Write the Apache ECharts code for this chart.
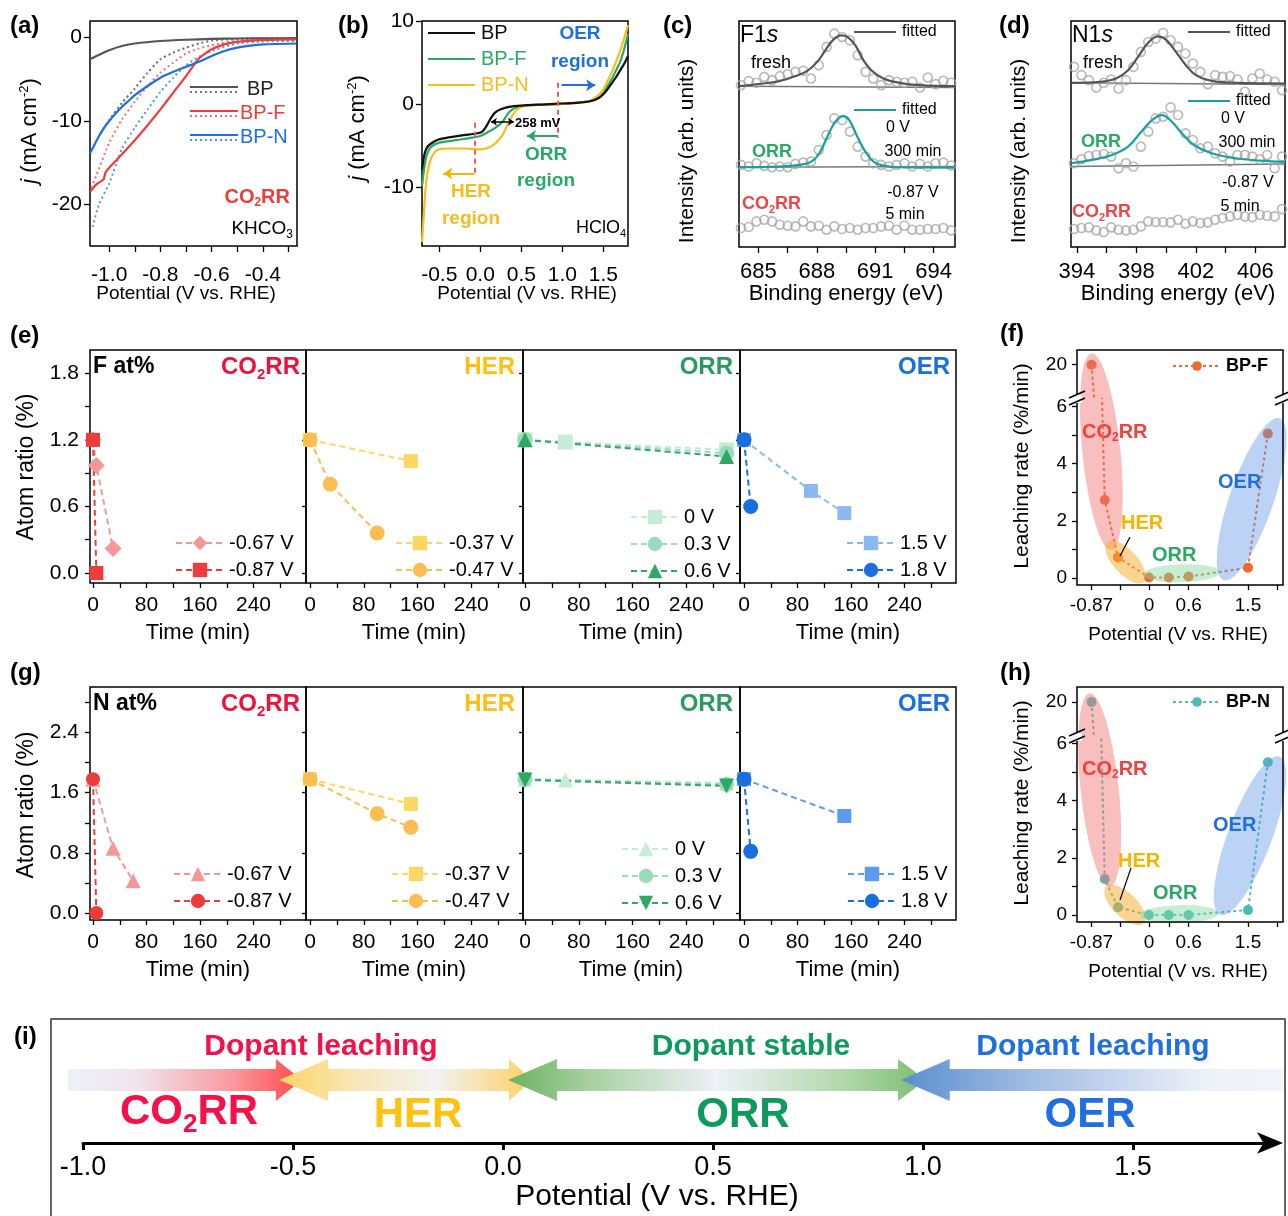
<!DOCTYPE html>
<html>
<head>
<meta charset="utf-8">
<script src="https://cdn.jsdelivr.net/npm/echarts@6/dist/echarts.min.js"></script>
<style>
  html, body { margin: 0; padding: 0; background: #fff; }
  #chart { width: 1288px; height: 1216px; }
</style>
</head>
<body>
<div id="chart"></div>
<script>
const FONT = '"Liberation Sans", Arial, Helvetica, sans-serif';

// ---------- (a) LSV in KHCO3 : [potential V, j mA cm-2]
const aBP = [[-1.075,-2.6],[-1.05,-2.2],[-1.0,-1.5],[-0.95,-1.0],[-0.9,-0.7],[-0.8,-0.4],[-0.7,-0.25],[-0.6,-0.15],[-0.5,-0.1],[-0.4,-0.08],[-0.27,-0.06]];
const aBPdot = [[-1.035,-11.5],[-1.0,-9.9],[-0.95,-7.8],[-0.9,-6.1],[-0.85,-4.2],[-0.8,-2.6],[-0.75,-1.8],[-0.7,-1.2],[-0.65,-0.7],[-0.6,-0.35],[-0.5,-0.15],[-0.4,-0.08],[-0.27,-0.05]];
const aBPF = [[-1.075,-18.5],[-1.05,-17.6],[-1.022,-17.0],[-1.015,-16.2],[-1.0,-15.6],[-0.95,-14.0],[-0.9,-12.3],[-0.85,-10.5],[-0.8,-8.6],[-0.75,-6.6],[-0.7,-4.6],[-0.65,-2.5],[-0.6,-1.4],[-0.55,-0.8],[-0.5,-0.5],[-0.4,-0.3],[-0.27,-0.2]];
const aBPFdot = [[-1.07,-18.0],[-1.05,-16.5],[-1.0,-12.6],[-0.95,-9.8],[-0.9,-7.7],[-0.85,-5.8],[-0.8,-4.2],[-0.75,-3.0],[-0.7,-1.9],[-0.65,-1.3],[-0.6,-0.9],[-0.5,-0.35],[-0.4,-0.15],[-0.27,-0.1]];
const aBPN = [[-1.075,-13.9],[-1.06,-13.0],[-1.045,-12.1],[-1.03,-11.3],[-1.015,-10.6],[-1.0,-10.0],[-0.975,-9.1],[-0.95,-8.3],[-0.925,-7.6],[-0.9,-6.9],[-0.85,-5.8],[-0.8,-4.8],[-0.75,-4.1],[-0.7,-3.5],[-0.65,-2.9],[-0.6,-2.2],[-0.55,-1.6],[-0.5,-1.2],[-0.45,-0.95],[-0.4,-0.8],[-0.27,-0.7]];
const aBPNdot = [[-1.065,-22.7],[-1.04,-20.0],[-1.0,-17.5],[-0.95,-13.3],[-0.9,-10.8],[-0.85,-8.6],[-0.8,-6.5],[-0.75,-4.8],[-0.7,-3.3],[-0.65,-2.3],[-0.6,-1.6],[-0.5,-0.7],[-0.4,-0.45],[-0.27,-0.4]];

// ---------- (b) LSV in HClO4
const bBP = [[-0.71,-7.8],[-0.68,-6.0],[-0.65,-5.2],[-0.6,-4.7],[-0.5,-4.2],[-0.4,-4.0],[-0.2,-3.7],[-0.05,-3.5],[0.02,-3.3],[0.07,-2.7],[0.12,-1.8],[0.18,-1.0],[0.25,-0.6],[0.35,-0.3],[0.5,-0.15],[0.8,0],[1.0,0.1],[1.2,0.2],[1.35,0.4],[1.45,0.8],[1.5,1.2],[1.55,1.8],[1.6,2.5],[1.65,3.2],[1.7,4.0],[1.75,4.8],[1.8,5.8]];
const bBPF = [[-0.71,-9.8],[-0.68,-7.5],[-0.65,-6.0],[-0.6,-5.1],[-0.5,-4.6],[-0.3,-4.3],[-0.1,-4.0],[0.0,-3.8],[0.1,-3.3],[0.2,-2.7],[0.28,-2.0],[0.33,-1.2],[0.38,-0.7],[0.45,-0.35],[0.6,-0.1],[1.0,0.05],[1.2,0.2],[1.35,0.4],[1.45,0.9],[1.5,1.4],[1.55,2.2],[1.6,3.0],[1.65,4.0],[1.7,5.0],[1.75,6.5],[1.8,8.4]];
const bBPN = [[-0.71,-16.5],[-0.69,-13.5],[-0.67,-10.5],[-0.64,-8.0],[-0.6,-6.5],[-0.55,-5.7],[-0.5,-5.4],[-0.4,-5.3],[-0.2,-5.3],[0.0,-5.4],[0.1,-5.2],[0.17,-4.8],[0.22,-4.3],[0.27,-3.7],[0.31,-2.9],[0.35,-2.1],[0.4,-1.2],[0.45,-0.6],[0.55,-0.2],[0.8,-0.05],[1.0,0.05],[1.2,0.2],[1.35,0.5],[1.45,1.2],[1.5,1.8],[1.55,2.8],[1.6,3.8],[1.65,5.0],[1.7,6.3],[1.75,7.8],[1.8,9.5]];

// ---------- (c) F1s XPS
const f1sEnergy = [684.1,684.5,684.9,685.3,685.7,686.1,686.5,686.9,687.3,687.7,688.1,688.5,688.9,689.3,689.7,690.1,690.5,690.9,691.3,691.7,692.1,692.5,692.9,693.3,693.7,694.1,694.5,694.9];
const f1sFresh = [48.7,49.9,49.4,51.2,50.2,51.4,52.0,52.7,53.0,50.7,54.7,60.2,64.2,63.2,62.2,57.7,52.7,50.7,48.7,50.2,49.7,49.4,49.7,48.0,51.0,49.0,50.0,49.4];
const f1sOrr = [24.7,24.2,25.2,24.4,24.0,24.2,24.0,25.0,25.4,25.7,29.2,33.7,38.7,38.2,34.7,30.2,27.2,25.2,24.7,24.2,24.7,25.2,24.2,25.0,24.2,25.2,25.4,24.5];
const f1sCo2rr = [5.7,6.0,7.7,8.2,7.7,6.7,6.4,6.2,7.7,6.2,6.4,5.2,6.2,5.4,5.7,5.2,5.7,5.7,6.2,6.4,5.2,6.4,5.2,5.2,5.4,5.4,5.7,5.0];
const f1sFitFresh = [[684.0,48.4],[685.25,49.2],[686.07,49.9],[686.89,51.4],[687.51,53.0],[688.02,55.7],[688.44,59.2],[688.85,62.4],[689.26,63.7],[689.57,63.2],[689.98,60.7],[690.39,56.2],[690.8,53.2],[691.42,50.7],[692.24,49.4],[693.27,48.7],[695.1,48.4]];
const f1sFitOrr = [[684.0,24.0],[686.07,24.2],[687.1,24.7],[687.72,25.7],[688.13,28.2],[688.54,33.2],[688.95,37.7],[689.36,39.4],[689.67,38.2],[690.08,33.2],[690.49,28.7],[690.91,25.7],[691.42,24.5],[692.24,24.0],[695.1,23.9]];
const f1sBaseFresh = [[684.0,48.4],[695.1,48.0]];
const f1sBaseOrr = [[684.0,24.0],[695.1,24.2]];

// ---------- (d) N1s XPS
const n1sEnergy = [393.8,394.3,394.8,395.3,395.8,396.3,396.8,397.3,397.8,398.3,398.8,399.3,399.8,400.3,400.8,401.3,401.8,402.3,402.8,403.3,403.8,404.3,404.8,405.3,405.8,406.3,406.8,407.3,407.8];
const n1sFresh = [54.2,51.7,50.2,48.0,49.4,50.4,47.7,50.2,54.2,58.7,61.7,62.7,64.4,62.2,60.2,58.2,55.2,52.7,49.0,51.7,51.2,51.4,50.4,46.7,50.7,52.2,50.4,49.7,47.2];
const n1sOrr = [25.2,26.4,27.4,27.7,28.0,27.2,23.7,25.2,24.2,30.2,34.7,38.7,39.2,42.0,39.7,34.2,32.2,29.7,30.2,28.2,27.2,25.7,27.7,27.7,27.2,26.4,27.7,23.7,27.2];
const n1sCo2rr = [5.4,5.7,5.9,5.0,4.5,5.9,5.2,5.0,5.2,6.2,7.7,7.5,7.5,7.4,8.2,7.0,7.7,7.2,7.4,8.2,8.7,9.2,9.7,9.2,9.0,9.7,9.4,9.2,11.4];
const n1sFitFresh = [[393.6,49.4],[395.56,49.7],[396.63,50.7],[397.44,53.2],[398.11,57.2],[398.78,61.4],[399.45,63.4],[399.99,62.4],[400.66,58.7],[401.33,54.7],[402.0,51.7],[403.07,50.0],[404.68,49.4],[408.0,49.2]];
const n1sFitOrr = [[393.6,25.2],[395.02,26.2],[396.36,27.7],[397.44,30.2],[398.24,34.2],[399.05,38.2],[399.72,39.7],[400.39,37.7],[401.06,34.2],[401.87,30.7],[403.07,28.2],[404.68,26.7],[406.3,26.0],[408.0,25.6]];
const n1sBaseFresh = [[393.6,49.4],[408.0,48.9]];
const n1sBaseOrr = [[393.6,24.2],[408.0,25.0]];

// ---------- (e) F at% vs time : [min, %]
const eCo2rr067 = [[0,1.2],[5,0.97],[30,0.22]];
const eCo2rr087 = [[0,1.2],[5,0]];
const eHer037 = [[0,1.2],[150,1.01]];
const eHer047 = [[0,1.2],[30,0.8],[100,0.36]];
const eOrr0 = [[0,1.2],[60,1.18],[300,1.11]];
const eOrr03 = [[0,1.2],[300,1.08]];
const eOrr06 = [[0,1.2],[300,1.05]];
const eOer15 = [[0,1.2],[100,0.74],[150,0.54]];
const eOer18 = [[0,1.2],[10,0.6]];

// ---------- (g) N at% vs time
const gCo2rr067 = [[0,1.78],[30,0.86],[60,0.43]];
const gCo2rr087 = [[0,1.78],[5,0]];
const gHer037 = [[0,1.78],[150,1.45]];
const gHer047 = [[0,1.78],[100,1.32],[150,1.14]];
const gOrr0 = [[0,1.78],[60,1.77],[300,1.73]];
const gOrr03 = [[0,1.78],[300,1.71]];
const gOrr06 = [[0,1.77],[300,1.69]];
const gOer15 = [[0,1.78],[150,1.29]];
const gOer18 = [[0,1.78],[10,0.82]];

// ---------- (f)(h) leaching rate vs potential
const leachPotential = [-0.87,-0.67,-0.47,0,0.3,0.6,1.5,1.8];
const leachRateF = [20,2.73,0.72,0.02,0.02,0.05,0.36,5.05];
const leachRateN = [20,1.26,0.27,0,0,0,0.17,5.34];
// shaded regions: [x0, y0, x1, y1] ends of the long axis, order CO2RR, HER, ORR, OER
const fRegions = [[-0.87,7.86,-0.57,0.98],[-0.63,1.26,-0.08,-0.13],[-0.09,0.12,1.08,0.21],[1.13,-0.07,1.98,5.58]];
const hRegions = [[-0.9,7.75,-0.59,0.99],[-0.65,0.99,-0.08,-0.29],[-0.14,0.0,1.05,0.06],[1.08,0.0,1.98,5.53]];

// ---------- (i) potential windows: arrow from / to (V vs. RHE)
const windowFrom = [-1.036,-0.533,0.012,0.947];
const windowTo = [-0.479,0.069,1.007,1.857];

// ---------------------------------------------------------------
const zip = (xs, ys) => xs.map((x, i) => [x, ys[i]]);

function vAxis(gridIndex, min, max, o) {
  o = o || {};
  return {
    gridIndex: gridIndex, type: 'value', min: min, max: max,
    show: o.show !== false, position: o.position,
    splitLine: { show: false },
    axisLine: { show: false, onZero: false },
    axisTick: { show: !!o.ticks, customValues: o.ticks, inside: !!o.inside, length: o.tickLen || 5,
                lineStyle: { color: '#000', width: 1.3 } },
    axisLabel: { show: !!o.labels, customValues: o.labels, margin: o.margin == null ? 6 : o.margin,
                 fontFamily: FONT, fontSize: o.size || 20, color: '#000',
                 formatter: o.fmt || (v => String(+(+v).toFixed(2))) }
  };
}
const fix1 = v => (+v).toFixed(1);

const boxGrid = (l, t, w, h) => ({ left: l, top: t, width: w, height: h, show: true,
  borderColor: '#000', borderWidth: 1.5, backgroundColor: 'transparent' });
const openGrid = (l, t, w, h) => ({ left: l, top: t, width: w, height: h, show: false });

const grids = [
  boxGrid(90, 21, 207, 225),      // 0 a
  boxGrid(422, 21, 206, 225),     // 1 b
  boxGrid(739, 21, 216, 226),     // 2 c
  boxGrid(1071, 21, 214, 226),    // 3 d
  boxGrid(90, 350, 216, 233),     // 4 e
  boxGrid(306, 350, 217, 233),    // 5
  boxGrid(523, 350, 217, 233),    // 6
  boxGrid(740, 350, 216, 233),    // 7
  openGrid(1077, 399, 206, 186),  // 8 f lower
  openGrid(1077, 350, 206, 49),   // 9 f upper
  boxGrid(90, 687, 216, 233),     // 10 g
  boxGrid(306, 687, 217, 233),    // 11
  boxGrid(523, 687, 217, 233),    // 12
  boxGrid(740, 687, 216, 233),    // 13
  openGrid(1077, 737, 206, 185),  // 14 h lower
  openGrid(1077, 687, 206, 50),   // 15 h upper
  openGrid(83, 1020, 1192, 123)   // 16 i
];

const timeMin = [-4.5, -6, -3, -6];
const timeLabels = [0, 80, 160, 240];
const timeTicks = [0, 40, 80, 120, 160, 200, 240, 280];

const xAxes = [];
const yAxes = [];
// a
xAxes.push(vAxis(0, -1.075, -0.267, { labels: [-1.0,-0.8,-0.6,-0.4], ticks: [-1.0,-0.9,-0.8,-0.7,-0.6,-0.5,-0.4,-0.3], size: 21, margin: 19, fmt: fix1, tickLen: 6 }));
yAxes.push(vAxis(0, -25, 2, { labels: [-20,-10,0], ticks: [-20,-10,0], size: 21, margin: 8, tickLen: 6 }));
// b
xAxes.push(vAxis(1, -0.71, 1.8, { labels: [-0.5,0,0.5,1,1.5], ticks: [-0.5,0,0.5,1,1.5], size: 21, margin: 19, fmt: fix1, tickLen: 6 }));
yAxes.push(vAxis(1, -17, 10, { labels: [-10,0,10], ticks: [-10,0,10], size: 21, margin: 8, tickLen: 6 }));
// c, d
xAxes.push(vAxis(2, 684.0, 695.1, { labels: [685,688,691,694], ticks: [685,686.5,688,689.5,691,692.5,694], size: 22, margin: 14, tickLen: 6 }));
yAxes.push(vAxis(2, 0, 68, { show: false }));
xAxes.push(vAxis(3, 393.6, 408.0, { labels: [394,398,402,406], ticks: [394,396,398,400,402,404,406], size: 22, margin: 14, tickLen: 6 }));
yAxes.push(vAxis(3, 0, 68, { show: false }));
// e
for (let k = 0; k < 4; k++) {
  xAxes.push(vAxis(4 + k, timeMin[k], timeMin[k] + 323, { labels: timeLabels, ticks: timeTicks, size: 21, margin: 12 }));
  yAxes.push(vAxis(4 + k, -0.09, 2.01, k === 0 ? { labels: [0,0.6,1.2,1.8], ticks: [0,0.3,0.6,0.9,1.2,1.5,1.8], size: 21, margin: 11, fmt: fix1 } : { show: false }));
}
// f
xAxes.push(vAxis(8, -1.09, 2.03, { labels: [-0.87,0,0.6,1.5], ticks: [-0.87,-0.435,0,0.3,0.6,1.05,1.5,1.95], size: 19, margin: 11 }));
yAxes.push(vAxis(8, -0.245, 6.26, { labels: [0,2,4,6], ticks: [0,1,2,3,4,5,6], size: 19, margin: 10 }));
xAxes.push(vAxis(9, -1.09, 2.03, { show: false }));
yAxes.push(vAxis(9, 16.5, 21.5, { labels: [20], ticks: [20], size: 19, margin: 10 }));
// g
for (let k = 0; k < 4; k++) {
  xAxes.push(vAxis(10 + k, timeMin[k], timeMin[k] + 323, { labels: timeLabels, ticks: timeTicks, size: 21, margin: 12 }));
  yAxes.push(vAxis(10 + k, -0.093, 3.005, k === 0 ? { labels: [0,0.8,1.6,2.4], ticks: [0,0.4,0.8,1.2,1.6,2.0,2.4,2.8], size: 21, margin: 11, fmt: fix1 } : { show: false }));
}
// h
xAxes.push(vAxis(14, -1.09, 2.03, { labels: [-0.87,0,0.6,1.5], ticks: [-0.87,-0.435,0,0.3,0.6,1.05,1.5,1.95], size: 19, margin: 11 }));
yAxes.push(vAxis(14, -0.245, 6.22, { labels: [0,2,4,6], ticks: [0,1,2,3,4,5,6], size: 19, margin: 10 }));
xAxes.push(vAxis(15, -1.09, 2.03, { show: false }));
yAxes.push(vAxis(15, 16.5, 21.5, { labels: [20], ticks: [20], size: 19, margin: 10 }));
// i
const iAxis = vAxis(16, -1.0, 1.838, { labels: [-1.0,-0.5,0,0.5,1.0,1.5], ticks: [-1.0,-0.5,0,0.5,1.0,1.5], size: 27, margin: 11, fmt: fix1, tickLen: 7 });
iAxis.axisLine = { show: true, onZero: false, symbol: ['none', 'arrow'], symbolSize: [16, 26], symbolOffset: [0, 8],
                   lineStyle: { color: '#000', width: 3 } };
iAxis.axisTick.lineStyle.width = 3;
xAxes.push(iAxis);
yAxes.push(vAxis(16, 0, 1, { show: false }));
// inward ticks on the right edge of sub-panels (e), (g)
[4, 5, 6].forEach(g => yAxes.push(vAxis(g, -0.09, 2.01, { position: 'right', ticks: [0,0.6,1.2,1.8], inside: true, tickLen: 4 })));
[10, 11, 12].forEach(g => yAxes.push(vAxis(g, -0.093, 3.005, { position: 'right', ticks: [0,0.8,1.6,2.4], inside: true, tickLen: 4 })));

// ---------------------------------------------------------------
const series = [];
function lineS(name, gi, data, color, o) {
  o = o || {};
  const s = {
    name: name, type: 'line', xAxisIndex: gi, yAxisIndex: o.yi == null ? gi : o.yi, data: data,
    showSymbol: !!o.symbol, symbol: o.symbol || 'none', symbolSize: o.symbolSize || 14,
    smooth: o.smooth || false, clip: true, z: o.z || 2, animation: false,
    lineStyle: { color: color, width: o.width || 2, type: o.dash || 'solid' },
    itemStyle: { color: o.fill || color },
    emphasis: { disabled: true }
  };
  series.push(s);
  return s;
}

// (a)
lineS('aBPdot', 0, aBPdot, '#6a6a6a', { dash: [2, 3], smooth: 0.2 });
lineS('aBPFdot', 0, aBPFdot, '#f46e6e', { dash: [2, 3], smooth: 0.2 });
lineS('aBPNdot', 0, aBPNdot, '#4f94f0', { dash: [2, 3], smooth: 0.2 });
lineS('aBP', 0, aBP, '#555555', { smooth: 0.2, width: 2.2 });
lineS('aBPF', 0, aBPF, '#f03b3b', { smooth: 0.15, width: 2.2 });
lineS('aBPN', 0, aBPN, '#1f6fe0', { smooth: 0.2, width: 2.2 });

// (b)
lineS('bBPF', 1, bBPF, '#2aa866', { smooth: 0.25, width: 2.2 });
lineS('bBPN', 1, bBPN, '#f7bd1c', { smooth: 0.25, width: 2.2 });
const bMain = lineS('bBP', 1, bBP, '#111111', { smooth: 0.25, width: 2.2 });
const redDash = { color: '#f25a5a', type: [5, 4], width: 2 };
bMain.markLine = {
  silent: true, animation: false, symbol: ['none', 'arrow'], symbolSize: 9, label: { show: false },
  data: [
    [{ coord: [-0.07, -2.2], symbol: 'none', lineStyle: redDash }, { coord: [-0.07, -8.5], symbol: 'none' }],
    [{ coord: [0.95, 2.6], symbol: 'none', lineStyle: redDash }, { coord: [0.95, -4.0], symbol: 'none' }],
    [{ coord: [-0.07, -8.3], lineStyle: { color: '#f7b500', width: 2, type: 'solid' } }, { coord: [-0.45, -8.3] }],
    [{ coord: [0.95, -3.8], lineStyle: { color: '#2aa866', width: 2, type: 'solid' } }, { coord: [0.57, -3.8] }],
    [{ coord: [0.99, 2.3], lineStyle: { color: '#1f6fe0', width: 2, type: 'solid' } }, { coord: [1.4, 2.3] }],
    [{ coord: [0.13, -2.1], symbol: 'arrow', symbolSize: 6, lineStyle: { color: '#000', width: 1.5, type: 'solid' } }, { coord: [0.41, -2.1], symbolSize: 6 }]
  ]
};

// (c) (d)
function xps(gi, energy, fresh, orr, co2rr, fitFresh, fitOrr, baseFresh, baseOrr) {
  [fresh, orr, co2rr].forEach(vals => series.push({
    type: 'scatter', xAxisIndex: gi, yAxisIndex: gi, data: zip(energy, vals), symbol: 'circle', symbolSize: 9,
    itemStyle: { color: 'rgba(255,255,255,0)', borderColor: '#a8a8a8', borderWidth: 1.6 }, z: 2, animation: false,
    emphasis: { disabled: true }
  }));
  lineS('base' + gi + 'a', gi, baseFresh, '#777777', { width: 1.5 });
  lineS('base' + gi + 'b', gi, baseOrr, '#777777', { width: 1.5 });
  lineS('fit' + gi + 'a', gi, fitFresh, '#555555', { width: 2.2, smooth: 0.4, z: 3 });
  lineS('fit' + gi + 'b', gi, fitOrr, '#17a0a0', { width: 2.2, smooth: 0.4, z: 3 });
}
xps(2, f1sEnergy, f1sFresh, f1sOrr, f1sCo2rr, f1sFitFresh, f1sFitOrr, f1sBaseFresh, f1sBaseOrr);
xps(3, n1sEnergy, n1sFresh, n1sOrr, n1sCo2rr, n1sFitFresh, n1sFitOrr, n1sBaseFresh, n1sBaseOrr);

// (e) (g)
const dash = [6, 4];
const downTri = 'path://M0,0 L20,0 L10,17 Z';
function timeSeries(p, g0, s) {
  lineS(p + '1|-0.67 V', g0, s[0], '#f59797', { symbol: s[9], dash: dash, symbolSize: s[9] === 'diamond' ? 17 : 15 });
  lineS(p + '1|-0.87 V', g0, s[1], '#ee3b3b', { symbol: s[10], dash: dash });
  lineS(p + '2|-0.37 V', g0 + 1, s[2], '#fdd764', { symbol: 'rect', dash: dash });
  lineS(p + '2|-0.47 V', g0 + 1, s[3], '#fbbd52', { symbol: 'circle', dash: dash, symbolSize: 15 });
  lineS(p + '3|0 V', g0 + 2, s[4], '#c4ecd7', { symbol: s[11], dash: dash, symbolSize: 15 });
  lineS(p + '3|0.3 V', g0 + 2, s[5], '#9adcb9', { symbol: 'circle', dash: dash, symbolSize: 15 });
  lineS(p + '3|0.6 V', g0 + 2, s[6], '#2fa866', { symbol: s[12], dash: dash, symbolSize: 15 });
  lineS(p + '4|1.5 V', g0 + 3, s[7], s[13], { symbol: 'rect', dash: dash });
  lineS(p + '4|1.8 V', g0 + 3, s[8], '#1a6fe0', { symbol: 'circle', dash: dash, symbolSize: 15 });
}
timeSeries('e', 4, [eCo2rr067, eCo2rr087, eHer037, eHer047, eOrr0, eOrr03, eOrr06, eOer15, eOer18,
  'diamond', 'rect', 'rect', 'triangle', '#8cb8f0']);
timeSeries('g', 10, [gCo2rr067, gCo2rr087, gHer037, gHer047, gOrr0, gOrr03, gOrr06, gOer15, gOer18,
  'triangle', 'circle', 'triangle', downTri, '#5b9cf0']);

// (f) (h)
const regionFill = ['rgba(242,110,110,0.45)', 'rgba(245,170,40,0.5)', 'rgba(130,215,160,0.45)', 'rgba(95,150,230,0.42)'];
const regionHalf = [19, 12, 9, 22];
function renderRegion(params, api) {
  const p0 = api.coord([api.value(0), api.value(1)]);
  const p1 = api.coord([api.value(2), api.value(3)]);
  const dx = p1[0] - p0[0], dy = p1[1] - p0[1];
  const k = params.dataIndex;
  return {
    type: 'ellipse', x: (p0[0] + p1[0]) / 2, y: (p0[1] + p1[1]) / 2,
    rotation: -Math.atan2(dy, dx),
    shape: { cx: 0, cy: 0, rx: Math.sqrt(dx * dx + dy * dy) / 2, ry: regionHalf[k] },
    style: { fill: regionFill[k] }
  };
}
function leach(name, gLow, rates, regions, color) {
  const pts = zip(leachPotential, rates);
  lineS(name, gLow, pts, color, { symbol: 'circle', symbolSize: 10, dash: [3, 3], z: 2 });
  lineS(name + '_up', gLow + 1, pts, color, { symbol: 'circle', symbolSize: 10, dash: [3, 3], z: 2 });
  series.push({ type: 'custom', xAxisIndex: gLow, yAxisIndex: gLow, data: regions, renderItem: renderRegion,
    encode: { x: [0, 2], y: [1, 3] }, clip: false, z: 3, silent: true, animation: false });
}
leach('f|BP-F', 8, leachRateF, fRegions, '#f0682e');
leach('h|BP-N', 14, leachRateN, hRegions, '#4cbcb2');

// (i)
const arrowLook = [
  { headL: 0, headR: 26, stops: [[0, '#eef0f8'], [0.3, '#f1e4ec'], [0.7, '#f89aa0'], [1, '#ff4848']] },
  { headL: 49, headR: 23, stops: [[0, '#fdd464'], [0.3, '#f8e6b8'], [0.62, '#f3f2f3'], [1, '#fdd060']] },
  { headL: 49, headR: 28, stops: [[0, '#6db163'], [0.2, '#a9d0a2'], [0.5, '#eef1f8'], [0.8, '#b2d8ac'], [1, '#7dbd71']] },
  { headL: 49, headR: 0, stops: [[0, '#5a8ed0'], [0.35, '#a3bde3'], [0.8, '#eef1f8'], [1, '#f2f4fa']] }
];
function renderArrow(params, api) {
  const k = params.dataIndex;
  const a = api.coord([api.value(0), 0.5])[0];
  const b = api.coord([api.value(1), 0.5])[0];
  const yc = params.coordSys.y + 60, h = 11, hh = 21;
  const L = arrowLook[k];
  const pts = [];
  if (L.headL) pts.push([a, yc], [a + L.headL, yc - hh], [a + L.headL, yc - h]); else pts.push([a, yc - h]);
  if (L.headR) pts.push([b - L.headR, yc - h], [b - L.headR, yc - hh], [b, yc], [b - L.headR, yc + hh], [b - L.headR, yc + h]);
  else pts.push([b, yc - h], [b, yc + h]);
  if (L.headL) pts.push([a + L.headL, yc + h], [a + L.headL, yc + hh]); else pts.push([a, yc + h]);
  return { type: 'polygon', shape: { points: pts },
    style: { fill: new echarts.graphic.LinearGradient(0, 0, 1, 0, L.stops.map(s => ({ offset: s[0], color: s[1] }))) } };
}
series.push({ type: 'custom', xAxisIndex: 16, yAxisIndex: 16, data: zip(windowFrom, windowTo),
  renderItem: renderArrow, encode: { x: [0, 1] }, clip: false, silent: true, animation: false, z: 2 });

// ---------------------------------------------------------------
function legend(names, left, top, o) {
  return Object.assign({
    data: names, left: left, top: top, orient: 'vertical', itemWidth: 48, itemHeight: 18, itemGap: 7,
    selectedMode: false, padding: 0, formatter: n => n.split('|')[1],
    textStyle: { fontFamily: FONT, fontSize: 20, color: '#000' }
  }, o || {});
}
const legends = [
  legend(['e1|-0.67 V', 'e1|-0.87 V'], 175, 533),
  legend(['e2|-0.37 V', 'e2|-0.47 V'], 395, 533),
  legend(['e3|0 V', 'e3|0.3 V', 'e3|0.6 V'], 630, 507),
  legend(['e4|1.5 V', 'e4|1.8 V'], 846, 533),
  legend(['g1|-0.67 V', 'g1|-0.87 V'], 173, 864),
  legend(['g2|-0.37 V', 'g2|-0.47 V'], 391, 864),
  legend(['g3|0 V', 'g3|0.3 V', 'g3|0.6 V'], 621, 839),
  legend(['g4|1.5 V', 'g4|1.8 V'], 847, 864),
  legend(['f|BP-F'], 1172, 357, { itemHeight: 12, textStyle: { fontFamily: FONT, fontSize: 18, fontWeight: 'bold', color: '#000' } }),
  legend(['h|BP-N'], 1172, 693, { itemHeight: 12, textStyle: { fontFamily: FONT, fontSize: 18, fontWeight: 'bold', color: '#000' } })
];

// ---------------------------------------------------------------
function T(x, y, text, st, extra) {
  return Object.assign({ type: 'text', x: x, y: y, z: 60, silent: true,
    style: Object.assign({ text: text, fontFamily: FONT, fontSize: 18, fill: '#000', align: 'left', verticalAlign: 'middle' }, st || {}) }, extra || {});
}
function chem(x, y, head, sub, tail, size, color, align, bold) {
  const w = bold === false ? 'normal' : 'bold';
  return T(x, y, '{m|' + head + '}{s|' + sub + '}{m|' + tail + '}', {
    align: align || 'left',
    rich: {
      m: { fontSize: size, fontWeight: w, fontFamily: FONT, fill: color },
      s: { fontSize: Math.round(size * 0.62), fontWeight: w, fontFamily: FONT, fill: color, padding: [Math.round(size * 0.62), 0, 0, 0] }
    }
  });
}
function L(x1, y1, x2, y2, color, width, lineDash) {
  return { type: 'line', z: 60, silent: true, shape: { x1: x1, y1: y1, x2: x2, y2: y2 },
    style: { stroke: color, lineWidth: width || 2, lineDash: lineDash || null } };
}
const rot = { rotation: Math.PI / 2 };
const jTitle = { text: '{i|j}{n| (mA cm}{p|-2}{n|)}', align: 'center', rich: {
  i: { fontSize: 22, fontStyle: 'italic', fontFamily: FONT, fill: '#000' },
  n: { fontSize: 22, fontFamily: FONT, fill: '#000' },
  p: { fontSize: 13, fontFamily: FONT, fill: '#000', padding: [0, 0, 12, 0] } } };

const g = [];
// panel letters
[['(a)', 10, 26], ['(b)', 338, 26], ['(c)', 663, 26], ['(d)', 999, 26], ['(e)', 10, 336], ['(f)', 1000, 334],
 ['(g)', 10, 673], ['(h)', 1000, 673], ['(i)', 14, 1037]].forEach(p =>
  g.push(T(p[1], p[2], p[0], { fontSize: 24, fontWeight: 'bold' })));

// (a)
g.push(T(30, 131, '', Object.assign({}, jTitle), rot));
g.push(T(186, 294, 'Potential (V vs. RHE)', { fontSize: 19, align: 'center' }));
[[87, '#555555', '#777777', 'BP', '#222', 247], [111, '#f03b3b', '#f46e6e', 'BP-F', '#f03b3b', 240], [135, '#1f6fe0', '#4f94f0', 'BP-N', '#1f6fe0', 240]]
  .forEach(r => {
    g.push(L(190, r[0], 238, r[0], r[1], 2.2));
    g.push(L(190, r[0] + 5, 238, r[0] + 5, r[2], 2.2, [2, 3]));
    g.push(T(r[5], r[0] + 2, r[3], { fontSize: 20, fill: r[4] }));
  });
g.push(chem(290, 197, 'CO', '2', 'RR', 20, '#f03b3b', 'right'));
g.push(chem(293, 229, 'KHCO', '3', '', 19, '#000', 'right', false));

// (b)
g.push(T(358, 128, '', Object.assign({}, jTitle), rot));
g.push(T(527, 294, 'Potential (V vs. RHE)', { fontSize: 19, align: 'center' }));
[[33, '#111111', 'BP'], [59, '#2aa866', 'BP-F'], [85, '#f7bd1c', 'BP-N']].forEach(r => {
  g.push(L(428, r[0], 475, r[0], r[1], 2.2));
  g.push(T(481, r[0], r[2], { fontSize: 20, fill: r[1] }));
});
g.push(T(580, 34, 'OER', { fontSize: 19, fontWeight: 'bold', fill: '#1f6fe0', align: 'center' }));
g.push(T(580, 62, 'region', { fontSize: 19, fontWeight: 'bold', fill: '#1f6fe0', align: 'center' }));
g.push(T(546, 155, 'ORR', { fontSize: 19, fontWeight: 'bold', fill: '#2aa866', align: 'center' }));
g.push(T(546, 181, 'region', { fontSize: 19, fontWeight: 'bold', fill: '#2aa866', align: 'center' }));
g.push(T(471, 192, 'HER', { fontSize: 19, fontWeight: 'bold', fill: '#f7bd1c', align: 'center' }));
g.push(T(471, 219, 'region', { fontSize: 19, fontWeight: 'bold', fill: '#f7bd1c', align: 'center' }));
g.push(T(515, 123, '258 mV', { fontSize: 13, fontWeight: 'bold' }));
g.push(chem(626, 228, 'HClO', '4', '', 18, '#000', 'right', false));

// (c) (d)
function xpsText(x0, xr, lab, yOff) {
  g.push(T(x0 - 52, 151, 'Intensity (arb. units)', { fontSize: 21, align: 'center' }, rot));
  g.push(T(x0 + 107, 294, 'Binding energy (eV)', { fontSize: 22, align: 'center' }));
  g.push(T(x0 + 1, 36, '{n|' + lab + '}{i|s}', { rich: { n: { fontSize: 23, fontFamily: FONT, fill: '#000' }, i: { fontSize: 23, fontStyle: 'italic', fontFamily: FONT, fill: '#000' } } }));
  g.push(T(x0 + 12, 63, 'fresh', { fontSize: 18 }));
  g.push(L(xr - 56, 32, xr - 14, 32, '#555555', 2.2));
  g.push(T(xr - 8, 32, 'fitted', { fontSize: 16 }));
  g.push(L(xr - 56, 110 - yOff, xr - 14, 110 - yOff, '#17a0a0', 2.2));
  g.push(T(xr - 8, 110 - yOff, 'fitted', { fontSize: 16 }));
}
xpsText(739, 910, 'F1', 0);
xpsText(1071, 1244, 'N1', 9);
g.push(T(898, 128, '0 V', { fontSize: 16, align: 'center' }));
g.push(T(913, 152, '300 min', { fontSize: 16, align: 'center' }));
g.push(T(913, 193, '-0.87 V', { fontSize: 16, align: 'center' }));
g.push(T(905, 215, '5 min', { fontSize: 16, align: 'center' }));
g.push(T(752, 152, 'ORR', { fontSize: 18, fontWeight: 'bold', fill: '#2aa866' }));
g.push(chem(742, 204, 'CO', '2', 'RR', 18, '#f04545'));
g.push(T(1233, 119, '0 V', { fontSize: 16, align: 'center' }));
g.push(T(1247, 143, '300 min', { fontSize: 16, align: 'center' }));
g.push(T(1248, 183, '-0.87 V', { fontSize: 16, align: 'center' }));
g.push(T(1240, 207, '5 min', { fontSize: 16, align: 'center' }));
g.push(T(1081, 142, 'ORR', { fontSize: 18, fontWeight: 'bold', fill: '#2aa866' }));
g.push(chem(1072, 212, 'CO', '2', 'RR', 18, '#f04545'));

// (e) (g) titles
function timeText(yTop, yMid, lab) {
  g.push(T(27, yMid, 'Atom ratio (%)', { fontSize: 23, align: 'center' }, rot));
  [198, 414, 631, 848].forEach(x => g.push(T(x, yTop + 283, 'Time (min)', { fontSize: 22, align: 'center' })));
  g.push(T(93, yTop + 17, lab, { fontSize: 23, fontWeight: 'bold' }));
  g.push(chem(300, yTop + 17, 'CO', '2', 'RR', 24, '#f0103c', 'right'));
  g.push(T(515, yTop + 17, 'HER', { fontSize: 24, fontWeight: 'bold', fill: '#ffbe10', align: 'right' }));
  g.push(T(733, yTop + 17, 'ORR', { fontSize: 24, fontWeight: 'bold', fill: '#2a9a60', align: 'right' }));
  g.push(T(950, yTop + 17, 'OER', { fontSize: 24, fontWeight: 'bold', fill: '#1a6fe0', align: 'right' }));
}
timeText(350, 467, 'F at%');
timeText(687, 805, 'N at%');

// (f) (h) frame, break marks and labels
function leachText(top, brk) {
  g.push({ type: 'rect', z: 10, silent: true, shape: { x: 1077, y: top, width: 206, height: 235 }, style: { fill: 'none', stroke: '#000', lineWidth: 1.5 } });
  g.push({ type: 'rect', z: 11, silent: true, shape: { x: 1072, y: brk - 4, width: 10, height: 8 }, style: { fill: '#fff' } });
  g.push({ type: 'rect', z: 11, silent: true, shape: { x: 1278, y: brk - 4, width: 10, height: 8 }, style: { fill: '#fff' } });
  g.push(L(1069, brk - 1, 1085, brk - 8, '#000', 1.5));
  g.push(L(1069, brk + 6, 1085, brk - 1, '#000', 1.5));
  g.push(L(1275, brk - 1, 1291, brk - 8, '#000', 1.5));
  g.push(L(1275, brk + 6, 1291, brk - 1, '#000', 1.5));
  g.push(T(1022, top + 116, 'Leaching rate (%/min)', { fontSize: 21, align: 'center' }, rot));
  g.push(T(1178, top + 285, 'Potential (V vs. RHE)', { fontSize: 19, align: 'center' }));
}
leachText(350, 399);
leachText(687, 737);
g.push(chem(1082, 432, 'CO', '2', 'RR', 20, '#f04040'));
g.push(T(1121, 523, 'HER', { fontSize: 20, fontWeight: 'bold', fill: '#f7b500' }));
g.push(L(1130, 537, 1120, 556, '#000', 1.2));
g.push(T(1152, 555, 'ORR', { fontSize: 20, fontWeight: 'bold', fill: '#2aa866' }));
g.push(T(1218, 482, 'OER', { fontSize: 20, fontWeight: 'bold', fill: '#1f6fe0' }));
g.push(chem(1082, 769, 'CO', '2', 'RR', 20, '#f04040'));
g.push(T(1118, 861, 'HER', { fontSize: 20, fontWeight: 'bold', fill: '#f7b500' }));
g.push(L(1131, 868, 1120, 900, '#000', 1.2));
g.push(T(1153, 893, 'ORR', { fontSize: 20, fontWeight: 'bold', fill: '#2aa866' }));
g.push(T(1213, 825, 'OER', { fontSize: 20, fontWeight: 'bold', fill: '#1f6fe0' }));

// (i)
g.push({ type: 'rect', z: 1, silent: true, shape: { x: 51, y: 1019, width: 1234, height: 230 }, style: { fill: 'none', stroke: '#333', lineWidth: 1.5 } });
const bigText = (x, y, text, color, size) => T(x, y, text, { fontSize: size, fontWeight: 'bold', fill: color, align: 'center' });
g.push(bigText(321, 1047, 'Dopant leaching', '#f5104a', 30));
g.push(bigText(751, 1047, 'Dopant stable', '#0d9a5c', 30));
g.push(bigText(1093, 1047, 'Dopant leaching', '#1f6fe0', 30));
g.push(chem(189, 1112, 'CO', '2', 'RR', 42, '#f5104a', 'center', true));
g.push(bigText(418, 1115, 'HER', '#ffc20e', 42));
g.push(bigText(743, 1115, 'ORR', '#0d9a5c', 42));
g.push(bigText(1090, 1115, 'OER', '#1f6fe0', 42));
g.push(T(657, 1197, 'Potential (V vs. RHE)', { fontSize: 30, align: 'center' }));

// ---------------------------------------------------------------
const chart = echarts.init(document.getElementById('chart'));
chart.setOption({
  backgroundColor: '#fff',
  animation: false,
  textStyle: { fontFamily: FONT },
  grid: grids,
  xAxis: xAxes,
  yAxis: yAxes,
  legend: legends,
  series: series,
  graphic: { elements: g }
});
</script>
</body>
</html>
